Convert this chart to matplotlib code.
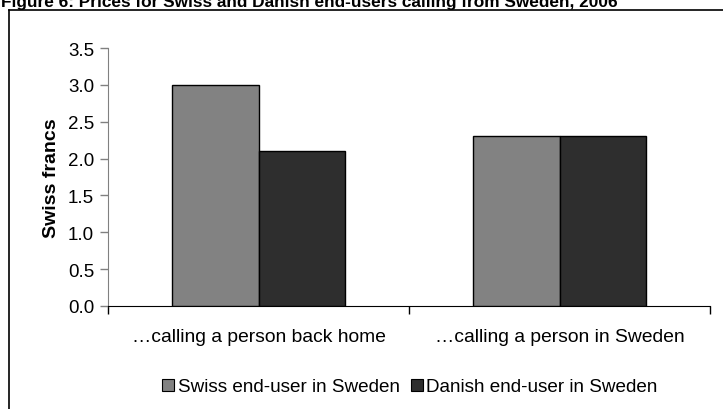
import matplotlib
matplotlib.use("Agg")
import matplotlib.pyplot as plt
from matplotlib.lines import Line2D
from matplotlib.patches import Patch

plt.rcParams['font.family'] = ['Liberation Sans', 'DejaVu Sans']

# Data
categories = ["\u2026calling a person back home", "\u2026calling a person in Sweden"]
series_names = ["Swiss end-user in Sweden", "Danish end-user in Sweden"]
swiss_values = [3.0, 2.3]
danish_values = [2.1, 2.3]
y_ticks = [0.0, 0.5, 1.0, 1.5, 2.0, 2.5, 3.0, 3.5]
title = "Figure 6: Prices for Swiss and Danish end-users calling from Sweden, 2006"

W, H = 723, 410
fig = plt.figure(figsize=(W / 100, H / 100), dpi=100)

# Outer frame (top and left edges visible)
fig.add_artist(Line2D([8.5 / W, 8.5 / W], [0, 1 - 10.5 / H], color="black",
                      lw=1.2, transform=fig.transFigure))
fig.add_artist(Line2D([8.5 / W, 1], [1 - 10.5 / H, 1 - 10.5 / H], color="black",
                      lw=1.2, transform=fig.transFigure))

# Title, partly above the top edge
fig.text(1 / W, 1 - 6.5 / H, title, fontsize=12.4, fontweight="bold",
         ha="left", va="baseline")

ax = fig.add_axes([108 / W, 1 - 307 / H, 602 / W, 258 / H])

x = list(range(len(categories)))
width = 0.289
ax.bar([i - width / 2 for i in x], swiss_values, width, color="#828282",
       edgecolor="black", linewidth=1.0, label=series_names[0], zorder=3)
ax.bar([i + width / 2 for i in x], danish_values, width, color="#2e2e2e",
       edgecolor="black", linewidth=1.0, label=series_names[1], zorder=3)

ax.set_xlim(-0.5, len(categories) - 0.5)
ax.set_ylim(0, 3.5)
ax.set_yticks(y_ticks)
ax.set_yticklabels([f"{v:.1f}" for v in y_ticks], fontsize=13.5)
ax.set_xticks(x)
ax.set_xticklabels(categories, fontsize=13.9)
ax.set_xticks([i - 0.5 for i in range(len(categories) + 1)], minor=True)
ax.tick_params(axis="x", which="major", length=0, pad=16)
ax.tick_params(axis="x", which="minor", length=6, color="black", width=1)
ax.tick_params(axis="y", length=6, color="#808080", width=1, pad=4)

for s in ("top", "right"):
    ax.spines[s].set_visible(False)
ax.spines["left"].set_color("#808080")
ax.spines["bottom"].set_color("black")

ax.set_ylabel("Swiss francs", fontsize=14, fontweight="bold", labelpad=6)

handles = [Patch(facecolor="#828282", edgecolor="black", linewidth=0.8),
           Patch(facecolor="#2e2e2e", edgecolor="black", linewidth=0.8)]
fig.legend(handles, series_names, loc="center", bbox_to_anchor=(410 / W, 1 - 388 / H),
           ncol=2, frameon=False, fontsize=13.6, handlelength=0.63, handleheight=0.6,
           handletextpad=0.2, columnspacing=0.58)

fig.savefig("out.png", dpi=100)
